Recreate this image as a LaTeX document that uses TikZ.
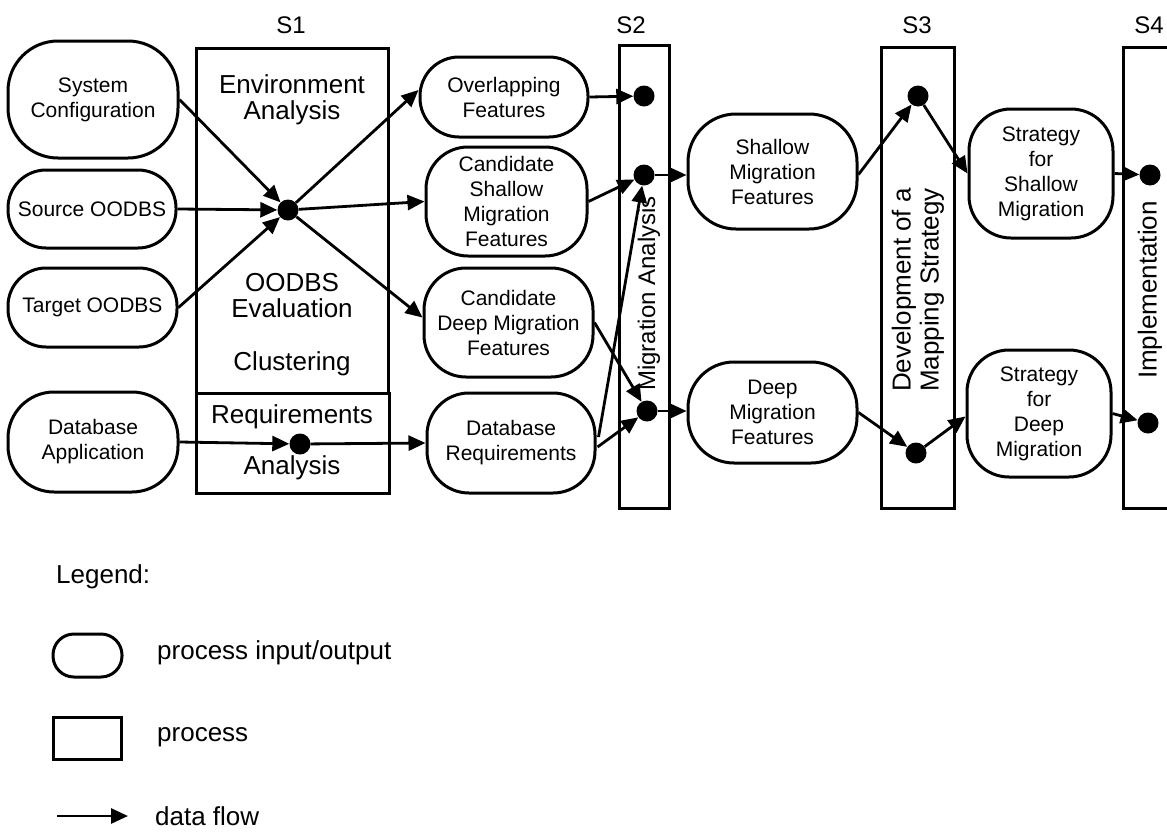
\documentclass[tikz,border=0pt]{standalone}
\usepackage{fontspec}
\setmainfont{Liberation Sans}
\usetikzlibrary{arrows.meta,calc}

\begin{document}
\begin{tikzpicture}[x=1pt,y=-1pt,
  io/.style={draw, line width=3pt, rounded corners=42pt, align=center,
    inner sep=0pt, font=\fontsize{21}{25}\selectfont},
  proc/.style={draw, line width=3pt, inner sep=0pt},
  dot/.style={circle, fill, inner sep=0pt, minimum size=21pt},
  flow/.style={line width=2.8pt, -{Triangle[length=17pt,width=15pt]}},
  big/.style={font=\fontsize{26}{26}\selectfont, align=center, inner sep=0pt},
  stage/.style={font=\fontsize{24}{24}\selectfont, inner sep=0pt},
  vlabel/.style={rotate=90, align=center, inner sep=0pt},
  legtext/.style={anchor=west, inner sep=0pt, font=\fontsize{26}{26}\selectfont}
]
\clip (0,0) rectangle (1167,833);

% stage headings
\node[stage] (s1) at (291,25) {S1};
\node[stage] (s2) at (631,25) {S2};
\node[stage] (s3) at (917,25) {S3};
\node[stage] (s4) at (1149,25) {S4};

% inputs
\node[io, rounded corners=50pt, minimum width=170pt, minimum height=117pt] (sysconf) at (93,99.5) {System\\Configuration};
\node[io, rounded corners=38pt, minimum width=168pt, minimum height=78pt] (source) at (92,209) {Source OODBS};
\node[io, rounded corners=38pt, minimum width=169pt, minimum height=79pt] (target) at (92.5,307.5) {Target OODBS};
\node[io, rounded corners=46pt, minimum width=170pt, minimum height=100pt] (dbapp) at (93,442) {Database\\Application};

% S1 processes
\node[proc, minimum width=192pt, minimum height=345pt] (envbox) at (292,220.5) {};
\node[proc, minimum width=193pt, minimum height=100pt] (reqbox) at (292.5,443) {};
\node[big] (envtxt) at (292,100) {Environment\\Analysis};
\node[big] (evaltxt) at (292,296) {OODBS\\Evaluation};
\node[big] (clustxt) at (292,363.5) {Clustering};
\node[big] (reqtxt) at (292,417) {Requirements};
\node[big] (anatxt) at (292,468) {Analysis};

\node[dot] (hub) at (288,210) {};
\node[dot] (rq) at (300,444) {};

% S1 outputs
\node[io, rounded corners=39pt, minimum width=168pt, minimum height=80pt] (overlap) at (504,97) {Overlapping\\Features};
\node[io, minimum width=161pt, minimum height=109pt] (cshallow) at (506.5,201.5) {Candidate\\Shallow\\Migration\\Features};
\node[io, minimum width=169pt, minimum height=109pt] (cdeep) at (508.5,322.5) {Candidate\\Deep Migration\\Features};
\node[io, minimum width=168pt, minimum height=100pt] (dbreq) at (511,443) {Database\\Requirements};

% S2
\node[proc, minimum width=50pt, minimum height=463pt] (migbox) at (644,276.5) {};
\node[vlabel, font=\fontsize{24}{24}\selectfont] (migtxt) at (649,293.5) {Migration Analysis};
\node[dot] (d21) at (644,96) {};
\node[dot] (d22) at (644,175) {};
\node[dot] (d23) at (647,411) {};

\node[io, rounded corners=48pt, minimum width=169pt, minimum height=115pt] (smf) at (772.5,171.5) {Shallow\\Migration\\Features};
\node[io, rounded corners=46pt, minimum width=169pt, minimum height=101pt] (dmf) at (772.5,412.5) {Deep\\Migration\\Features};

% S3
\node[proc, minimum width=73pt, minimum height=461pt] (mapbox) at (917.5,277.5) {};
\node[vlabel, font=\fontsize{26}{28}\selectfont] (maptxt) at (918,290) {Development of a\\Mapping Strategy};
\node[dot] (d31) at (918,96) {};
\node[dot] (d32) at (916,453) {};

\node[io, minimum width=144pt, minimum height=129pt] (ssm) at (1041,173.5) {Strategy\\for\\Shallow\\Migration};
\node[io, minimum width=144pt, minimum height=127pt] (sdm) at (1039,413.5) {Strategy\\for\\Deep\\Migration};

% S4
\node[proc, minimum width=90pt, minimum height=461pt] (impbox) at (1168,277.5) {};
\node[vlabel, font=\fontsize{26}{26}\selectfont] (imptxt) at (1150,290) {Implementation};
\node[dot] (d41) at (1150,175) {};
\node[dot] (d42) at (1148,423) {};

% data flows
\draw[flow] (sysconf.east) -- (hub);
\draw[flow] (source.east) -- (hub);
\draw[flow] (target.east) -- (hub);
\draw[flow] (hub) -- ($(overlap.west)+(0,-7)$);
\draw[flow] (hub) -- (cshallow.west);
\draw[flow] (hub) -- ($(cdeep.west)+(0,-5)$);
\draw[flow] (dbapp.east) -- (rq);
\draw[flow] (rq) -- (dbreq.west);

\draw[flow] (overlap.east) -- (d21);
\draw[flow] (cshallow.east) -- (d22);
\draw[flow] (cdeep.east) -- (d23);
\draw[flow] ($(dbreq.east)+(2,-6)$) -- (d22);
\draw[flow] ($(dbreq.east)+(1,4)$) -- (d23);
\draw[flow] (d22) -- (d22 -| smf.west);
\draw[flow] (d23) -- (d23 -| dmf.west);

\draw[flow] ($(smf.east)+(0,3)$) -- (d31);
\draw[flow] (d31) -- (ssm.west);
\draw[flow] (dmf.east) -- (d32);
\draw[flow] (d32) -- ($(sdm.west)+(0,3)$);
\draw[flow] (ssm.east) -- (d41);
\draw[flow] (sdm.east) -- (d42);

% legend
\node[legtext] (legend) at (56,577) {Legend:};
\node[draw, line width=3pt, rounded corners=21pt, minimum width=69pt, minimum height=43pt, inner sep=0pt] (legio) at (87.5,655.5) {};
\node[legtext] (legiotxt) at (157,653) {process input/output};
\node[proc, minimum width=68pt, minimum height=42pt] (legproc) at (87,738) {};
\node[legtext] (legproctxt) at (157,737) {process};
\coordinate (lfa) at (57,816);
\coordinate (lfb) at (128,816);
\draw[flow] (lfa) -- (lfb);
\node[legtext] (legflowtxt) at (155,816) {data flow};
\end{tikzpicture}
\end{document}
